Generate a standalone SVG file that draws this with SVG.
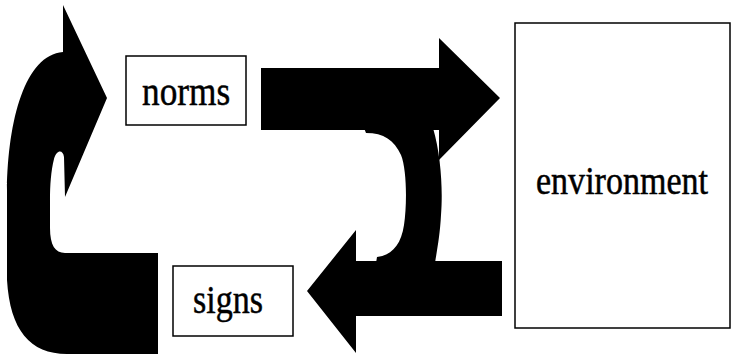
<svg xmlns="http://www.w3.org/2000/svg" width="731" height="356" viewBox="0 0 731 356">
  <style>
    .box { fill: #ffffff; stroke: #000000; stroke-width: 1.5; }
    .label { font-family: "Liberation Serif", "Times New Roman", serif; fill: #000000; stroke: #000000; stroke-width: 0.5; }
    .arrow { fill: #000000; stroke: none; }
  </style>
  <rect width="731" height="356" fill="#ffffff"/>

  <g id="connectors">
    <!-- curved loop from signs back up to norms -->
    <path class="arrow" d="M63,5 L107,98 L65,197 L64,157 C63,150 57,149 54,159 C51,171 50,185 50,200 L50,228 C50,245 55,253 65,253 L158,253 L158,354 L67,354 C30,354 10,330 7,280 L7,190 C8,120 25,55 63,52 Z"/>
    <!-- norms to environment -->
    <path class="arrow" d="M261,68 L439,68 L439,38 L500,98 L439,160 L439,130 L261,130 Z"/>
    <!-- bend joining the two straight arrows -->
    <path class="arrow" d="M364,128 L433,128 C441,155 443,190 441,215 C440,235 437,250 435,263 L376,263 L377,257 C392,255 401,245 404,225 C407,205 407,170 401,155 C394,140 384,133 366,133 Z"/>
    <!-- environment to signs -->
    <path class="arrow" d="M502,261 L356,261 L356,230 L307,291 L356,353 L356,316 L502,316 Z"/>
  </g>

  <g id="norms">
    <rect class="box" x="126" y="56" width="120" height="69"/>
    <text class="label" transform="translate(142,105) scale(0.82,1)" font-size="43">norms</text>
  </g>

  <g id="signs">
    <rect class="box" x="173" y="266" width="120" height="70"/>
    <text class="label" transform="translate(193,313) scale(0.83,1)" font-size="41">signs</text>
  </g>

  <g id="environment">
    <rect class="box" x="515" y="23" width="215" height="305"/>
    <text class="label" transform="translate(536,194) scale(0.873,1)" font-size="39">environment</text>
  </g>
</svg>
